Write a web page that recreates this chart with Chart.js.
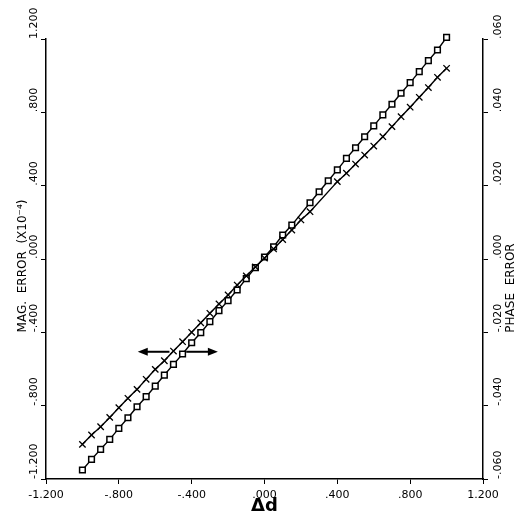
<!DOCTYPE html>
<html>
<head>
<meta charset="utf-8">
<script src="https://cdn.jsdelivr.net/npm/chart.js@4.4.0/dist/chart.umd.min.js"></script>
<style>
  html, body { margin: 0; padding: 0; background: #fff; }
  #wrap { width: 522px; height: 519px; }
</style>
</head>
<body>
<div id="wrap"><canvas id="errorChart"></canvas></div>
<script>
// delta d samples
const deltaD = [-1.00, -0.95, -0.90, -0.85, -0.80, -0.75, -0.70, -0.65, -0.60, -0.55,
                -0.50, -0.45, -0.40, -0.35, -0.30, -0.25, -0.20, -0.15, -0.10, -0.05,
                 0.00,  0.05,  0.10,  0.15,  0.20,  0.25,  0.30,  0.35,  0.40,  0.45,
                 0.50,  0.55,  0.60,  0.65,  0.70,  0.75,  0.80,  0.85,  0.90,  0.95, 1.00];

// magnitude error (x10^-4), "x" markers, left axis
const magError = [-1.011, -0.960, -0.915, -0.864, -0.811, -0.760, -0.711, -0.656, -0.602, -0.555,
                  -0.502, -0.451, -0.400, -0.348, -0.296, -0.245, -0.196, -0.142, -0.092, -0.043,
                   0.005,  0.055,  0.106,  0.158,  0.213,  0.258,  null,   null,   0.422,  0.468,
                   0.518,  0.567,  0.616,  0.667,  0.722,  0.776,  0.828,  0.882,  0.935,  0.991, 1.040];

// phase error, square markers, right axis
const phaseError = [-0.05755, -0.05465, -0.0519, -0.0492, -0.0462, -0.0433, -0.0403, -0.03755, -0.03465, -0.03165,
                    -0.02875, -0.0259, -0.02285, -0.0201, -0.0171, -0.0141, -0.01135, -0.00845, -0.00535, -0.00235,
                     0.00055,  0.00335,  0.00655,  0.00925,  null,    0.01535,  0.01835,  0.02135,  0.0243,  0.02745,
                     0.03035,  0.03335,  0.0363,   0.0393,   0.0422,  0.0452,   0.0481,   0.0511,   0.0541,  0.057, 0.06045];

const xTicks = [-1.2, -0.8, -0.4, 0, 0.4, 0.8, 1.2];
const xTickLabels = ['-1.200', '-.800', '-.400', '.000', '.400', '.800', '1.200'];
const magTicks = [-1.2, -0.8, -0.4, 0, 0.4, 0.8, 1.2];
const magTickLabels = ['-1.200', '-.800', '-.400', '.000', '.400', '.800', '1.200'];
const phaseTicks = [-0.06, -0.04, -0.02, 0, 0.02, 0.04, 0.06];
const phaseTickLabels = ['-.060', '-.040', '-.020', '.000', '.020', '.040', '.060'];

// double arrow in the middle (data units)
const arrowAt = -0.506;
const leftArrow = [-0.522, -0.696];
const rightArrow = [-0.430, -0.256];

const INK = '#000';
const tickFont = { family: 'DejaVu Sans', size: 11 };

function pointsOf(ys) {
    return deltaD.map((x, i) => ({ x: x, y: ys[i] }));
}

function fixedTicks(values) {
    return function (scale) {
        scale.ticks = values.map(v => ({ value: v }));
    };
}

const extras = {
    id: 'extras',
    afterDraw(chart) {
        const { ctx, chartArea, scales } = chart;
        const mid = (chartArea.top + chartArea.bottom) / 2;
        ctx.save();
        ctx.fillStyle = INK;
        ctx.strokeStyle = INK;

        // side titles, both read bottom to top
        ctx.font = '12px "DejaVu Sans"';
        ctx.textAlign = 'center';
        ctx.textBaseline = 'middle';
        [['MAG.  ERROR  (X10\u207B\u2074)', 23, mid + 7],
         ['PHASE  ERROR', 511, mid + 29]].forEach(([text, x, y]) => {
            ctx.save();
            ctx.translate(x, y);
            ctx.rotate(-Math.PI / 2);
            ctx.fillText(text, 0, 0);
            ctx.restore();
        });

        // arrows
        const y = scales.y.getPixelForValue(arrowAt);
        ctx.lineWidth = 2;
        [leftArrow, rightArrow].forEach(([from, to]) => {
            const x0 = scales.x.getPixelForValue(from);
            const x1 = scales.x.getPixelForValue(to);
            const dir = Math.sign(x1 - x0);
            ctx.beginPath();
            ctx.moveTo(x0, y);
            ctx.lineTo(x1 - dir * 6, y);
            ctx.stroke();
            ctx.beginPath();
            ctx.moveTo(x1, y);
            ctx.lineTo(x1 - dir * 10, y - 4);
            ctx.lineTo(x1 - dir * 10, y + 4);
            ctx.closePath();
            ctx.fill();
        });
        ctx.restore();
    }
};

const axisGrid = { drawOnChartArea: false, drawTicks: true, tickLength: 5, color: INK, lineWidth: 1 };
const axisBorder = { display: true, color: INK, width: 1.5 };

new Chart(document.getElementById('errorChart'), {
    type: 'line',
    data: {
        datasets: [
            {
                label: 'MAG. ERROR',
                data: pointsOf(magError),
                yAxisID: 'y',
                borderColor: INK,
                borderWidth: 1.4,
                pointStyle: 'crossRot',
                pointRadius: 4.5,
                pointBorderWidth: 1.3,
                pointBorderColor: INK,
                spanGaps: true,
                clip: false,
                tension: 0
            },
            {
                label: 'PHASE ERROR',
                data: pointsOf(phaseError),
                yAxisID: 'y2',
                borderColor: INK,
                borderWidth: 1.4,
                pointStyle: 'rect',
                pointRadius: 4,
                pointBorderWidth: 1.5,
                pointBorderColor: INK,
                pointBackgroundColor: '#fff',
                spanGaps: true,
                clip: false,
                tension: 0
            }
        ]
    },
    options: {
        responsive: true,
        maintainAspectRatio: false,
        animation: false,
        layout: { padding: { left: 29, top: 39, right: 0, bottom: 0 } },
        plugins: { legend: { display: false }, tooltip: { enabled: false } },
        scales: {
            x: {
                type: 'linear',
                min: -1.2,
                max: 1.2,
                afterBuildTicks: fixedTicks(xTicks),
                afterFit: s => { s.height = 40; },
                grid: axisGrid,
                border: axisBorder,
                ticks: {
                    color: INK,
                    font: tickFont,
                    padding: 5,
                    maxRotation: 0,
                    callback: (v, i) => xTickLabels[i]
                },
                title: {
                    display: true,
                    text: '\u0394d',
                    color: INK,
                    font: { family: 'DejaVu Sans', size: 18, weight: 'bold' },
                    padding: { top: 0, bottom: 2 }
                }
            },
            y: {
                position: 'left',
                min: -1.2,
                max: 1.2,
                afterBuildTicks: fixedTicks(magTicks),
                afterFit: s => { s.width = 17; },
                grid: axisGrid,
                border: axisBorder,
                ticks: {
                    color: INK,
                    font: tickFont,
                    minRotation: 90,
                    maxRotation: 90,
                    crossAlign: 'far',
                    align: 'start',
                    callback: (v, i) => magTickLabels[i]
                }
            },
            y2: {
                position: 'right',
                min: -0.06,
                max: 0.06,
                afterBuildTicks: fixedTicks(phaseTicks),
                afterFit: s => { s.width = 39; },
                grid: axisGrid,
                border: axisBorder,
                ticks: {
                    color: INK,
                    font: tickFont,
                    minRotation: 90,
                    maxRotation: 90,
                    crossAlign: 'near',
                    padding: 10,
                    callback: (v, i) => phaseTickLabels[i]
                }
            }
        }
    },
    plugins: [extras]
});
</script>
</body>
</html>
